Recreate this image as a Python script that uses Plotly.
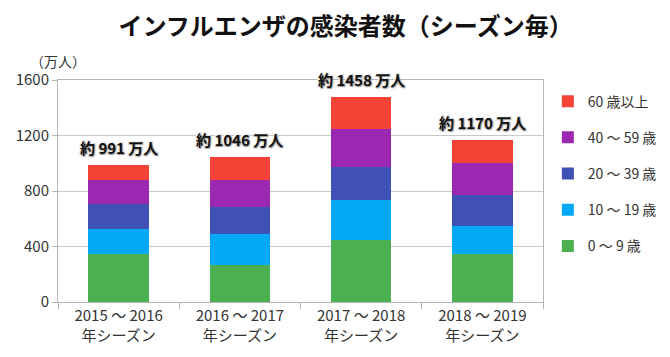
import plotly.graph_objects as go

seasons = ["2015 ～ 2016<br>年シーズン", "2016 ～ 2017<br>年シーズン",
           "2017 ～ 2018<br>年シーズン", "2018 ～ 2019<br>年シーズン"]
age_groups = ["0 ～ 9 歳", "10 ～ 19 歳", "20 ～ 39 歳", "40 ～ 59 歳", "60 歳以上"]
age_0_9 = [344, 269, 445, 344]
age_10_19 = [181, 220, 290, 206]
age_20_39 = [179, 197, 236, 221]
age_40_59 = [176, 194, 274, 229]
age_60_plus = [111, 166, 233, 170]
total_labels = ["約 991 万人", "約 1046 万人", "約 1458 万人", "約 1170 万人"]
y_ticks = [0, 400, 800, 1200, 1600]

series = [age_0_9, age_10_19, age_20_39, age_40_59, age_60_plus]
colors = ["#4CAF50", "#03A9F4", "#3F51B5", "#9C27B0", "#F44336"]
FONT = "Noto Sans CJK JP"

fig = go.Figure()
for i, (name, vals, col) in enumerate(zip(age_groups, series, colors)):
    fig.add_trace(go.Bar(x=seasons, y=vals, name=name, marker_color=col,
                         marker_line_width=0, legendgroup=name,
                         legendrank=1000 - i))

totals = [sum(v) for v in zip(*series)]
for s, t, lab in zip(seasons, totals, total_labels):
    fig.add_annotation(x=s, y=t, text="<b>" + lab + "</b>", showarrow=False,
                       yshift=17, font=dict(family=FONT, size=15, color="#111",
                                            shadow="1px 1px 1px #999, -1px -1px 1px #fff, 1px -1px 1px #ccc, -1px 1px 1px #ccc"))

fig.add_annotation(xref="paper", yref="paper", x=0.0, y=1.03, text="（万人）",
                   showarrow=False, xanchor="center", yanchor="bottom",
                   font=dict(family=FONT, size=14, color="#333"))

fig.update_layout(
    width=662, height=349,
    margin=dict(l=50, r=127, t=72, b=55, autoexpand=False),
    paper_bgcolor="white", plot_bgcolor="white",
    barmode="stack", bargap=0.5,
    title=dict(text="<b>インフルエンザの感染者数（シーズン毎）</b>", x=0.51, xref="container",
               xanchor="center", y=0.946, yref="container", yanchor="middle",
               font=dict(family=FONT, size=24, color="#111")),
    font=dict(family=FONT, size=15, color="#333"),
    legend=dict(x=1.01, y=0.975, xanchor="left", yanchor="top",
                traceorder="grouped", tracegroupgap=15, itemwidth=30,
                font=dict(family=FONT, size=14, color="#333")),
    showlegend=True,
)
fig.update_xaxes(showline=True, linecolor="#b5b5b5", mirror=True, automargin=False,
                 ticks="outside", tickson="boundaries", ticklen=6, tickcolor="#b5b5b5",
                 tickfont=dict(family=FONT, size=15, color="#333"))
fig.update_yaxes(range=[0, 1600], tickvals=y_ticks, showgrid=True, gridcolor="#c8c8c8",
                 showline=True, linecolor="#b5b5b5", mirror=True, automargin=False,
                 ticks="outside", ticklen=5, tickcolor="#b5b5b5",
                 tickfont=dict(family=FONT, size=15, color="#333"))

fig.write_html("out.html")
